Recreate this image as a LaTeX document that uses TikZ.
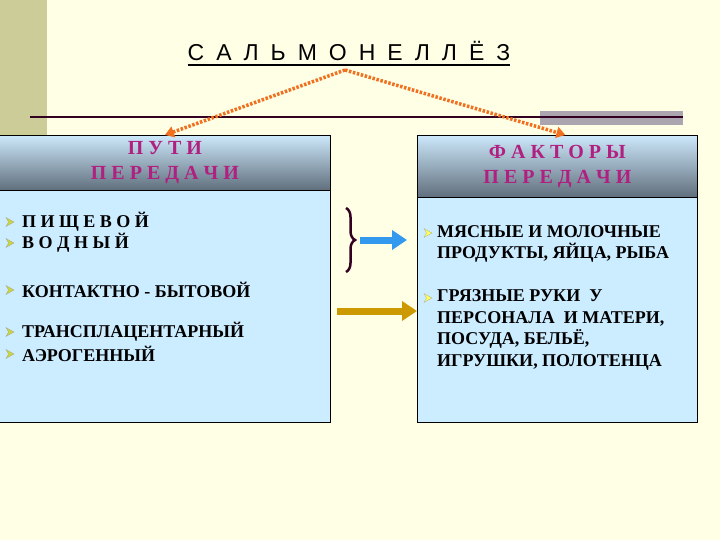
\documentclass[tikz,border=0pt]{standalone}
\usepackage{fontspec}
\setmainfont{Liberation Serif}
\newfontfamily\titlefont{Liberation Sans}
\usetikzlibrary{arrows.meta,positioning,decorations.pathreplacing}
\definecolor{slcream}{RGB}{255,255,230}
\definecolor{slband}{RGB}{204,204,153}
\definecolor{slbody}{RGB}{204,236,255}
\definecolor{slheadtop}{RGB}{204,232,250}
\definecolor{slheadbot}{RGB}{96,110,124}
\definecolor{slmagenta}{RGB}{176,32,128}
\definecolor{slorange}{RGB}{240,112,32}
\definecolor{slblue}{RGB}{51,153,238}
\definecolor{slgold}{RGB}{204,153,0}
\definecolor{slgray}{RGB}{170,165,175}
\definecolor{slrule}{RGB}{51,0,34}
\definecolor{slolive}{RGB}{204,214,60}
\definecolor{slyellow}{RGB}{255,255,90}

\newcommand\tgap{\hspace{12pt}}

\tikzset{
  panel/.style={draw=black, fill=slbody, line width=0.8pt, anchor=north west, inner sep=0pt},
  panelhead/.style={draw=black, line width=0.8pt, anchor=north west, inner sep=0pt,
    top color=slheadtop, bottom color=slheadbot, align=center, text=slmagenta,
    font=\bfseries\fontsize{20}{25}\selectfont},
  item/.style={anchor=west, inner sep=0pt, align=left, font=\bfseries\fontsize{18}{21.5}\selectfont},
  dotarrow/.style={slorange, line width=3.5pt, dash pattern=on 2.5pt off 1.6pt,
    -{Triangle[length=9pt,width=11pt]}},
  fatarrow/.style={line width=7pt, -{Triangle[length=15pt,width=19pt]}},
  pointer/.pic={\fill[#1, draw=black!40, line width=0.2pt] (-4,-4.5) -- (4,0) -- (-4,4.5) -- (-1.5,0) -- cycle;}
}

\begin{document}
\begin{tikzpicture}[x=1pt, y=-1pt]
  \useasboundingbox (0,0) rectangle (720,540);
  \fill[slcream] (0,0) rectangle (720,540);
  \fill[slband] (0,0) rectangle (47,140);

  % title and top rule
  \node[font=\titlefont\fontsize{23}{26}\selectfont, inner sep=0pt] (title) at (349,51)
    {С\tgap А\tgap Л\tgap Ь\tgap М\tgap О\tgap Н\tgap Е\tgap Л\tgap Л\tgap Ё\tgap З};
  \draw[line width=2.5pt] ([yshift=-4pt]title.south west) -- ([yshift=-4pt]title.south east);
  \coordinate (apex) at (345,70);
  \fill[slgray] (540,111) rectangle (683,125);
  \draw[slrule, line width=1.6pt] (30,117) -- (683,117);

  % left panel: ways of transmission
  \node[panel, minimum width=331, minimum height=287] (ways) at (-1,135) {};
  \node[panelhead, minimum width=331, minimum height=55] (wayshead) at (-1,135) {П У Т И\\П Е Р Е Д А Ч И};

  \node[item] (food) at (22,222) {П И Щ Е В О Й};
  \node[item] (water) at (22,243) {В О Д Н Ы Й};
  \node[item] (contact) at (22,290) {КОНТАКТНО - БЫТОВОЙ};
  \node[item] (transpl) at (22,332) {ТРАНСПЛАЦЕНТАРНЫЙ};
  \node[item] (aero) at (22,354) {АЭРОГЕННЫЙ};
  \foreach \n in {food,water,contact,transpl,aero}
    \pic at ([xshift=-12pt]\n.west) {pointer=slolive};

  % right panel: factors of transmission
  \node[panel, minimum width=280, minimum height=287] (factors) at (417,135) {};
  \node[panelhead, minimum width=280, minimum height=62] (factorshead) at (417,135) {Ф А К Т О Р Ы\\П Е Р Е Д А Ч И};

  \node[item] (meat) at (437,244) {МЯСНЫЕ И МОЛОЧНЫЕ\\ПРОДУКТЫ, ЯЙЦА, РЫБА};
  \node[item] (hands) at (437,330) {ГРЯЗНЫЕ РУКИ \ У\\ПЕРСОНАЛА \ И МАТЕРИ,\\ПОСУДА, БЕЛЬЁ,\\ИГРУШКИ, ПОЛОТЕНЦА};
  \pic at (428,233) {pointer=slyellow};
  \pic at (428,298) {pointer=slyellow};

  % connectors
  \draw[dotarrow] (apex) -- (wayshead.north);
  \draw[dotarrow] (apex) -- ([xshift=8pt]factorshead.north);

  \draw[slrule, line width=2.5pt, decorate, decoration={brace, amplitude=9pt}] (346,208) -- (346,272);
  \coordinate (bracetip) at (360,240);
  \coordinate (blueend) at (407,240);
  \draw[fatarrow, slblue] (bracetip) -- (blueend);
  \coordinate (goldstart) at (337,311);
  \draw[fatarrow, slgold] (goldstart) -- (factors.west |- goldstart);
\end{tikzpicture}
\end{document}
